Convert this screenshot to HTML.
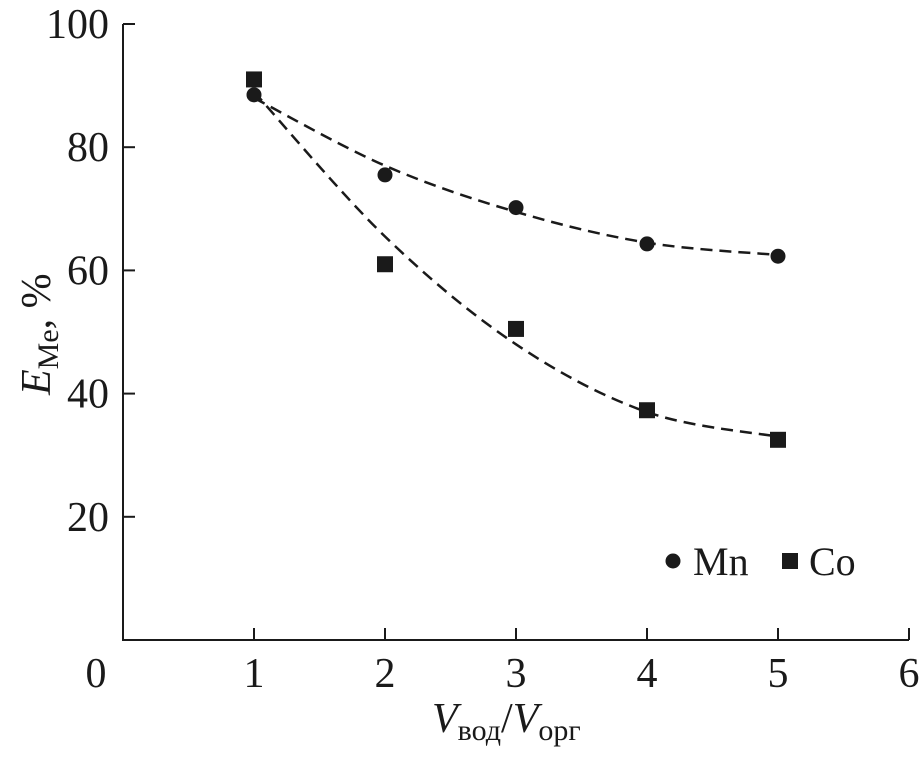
<!DOCTYPE html>
<html><head><meta charset="utf-8"><style>
body{margin:0;background:#fff;}
svg text{font-family:"Liberation Serif",serif;fill:#1a1a1a;}
</style></head><body>
<svg id="c" width="921" height="753" viewBox="0 0 921 753"></svg>
<script>
const xTicks=[0,1,2,3,4,5,6];
const yTicks=[20,40,60,80,100];
const xs=[1,2,3,4,5];
const mnValues=[88.5,75.5,70.2,64.3,62.3];
const coValues=[91,61,50.5,37.3,32.5];
const mnFit=[88,77,69.5,64.5,62.5];
const coFit=[89,65.5,48,37,33];
const svg=document.getElementById('c');
const NS='http://www.w3.org/2000/svg';
const X=v=>123+v*131;
const Y=v=>640-v*6.16;
function el(t,a,p){const e=document.createElementNS(NS,t);for(const k in a)e.setAttribute(k,a[k]);(p||svg).appendChild(e);return e;}
let ax=el('path',{d:`M${X(0)},${Y(100)} L${X(0)},${Y(0)} L${X(6)},${Y(0)}`,fill:'none',stroke:'#1a1a1a','stroke-width':2});


xTicks.forEach(v=>{
 if(v>0){const t=el('line',{x1:X(v),x2:X(v),y1:Y(0),y2:Y(0)-12,stroke:'#1a1a1a','stroke-width':2});
 
 }
 const l=el('text',{x:X(v)-(v==0?27:0),y:687,'font-size':42,'text-anchor':'middle'});l.textContent=v;
 
 
});
yTicks.forEach(v=>{
 const t=el('line',{x1:X(0),x2:X(0)+12,y1:Y(v),y2:Y(v),stroke:'#1a1a1a','stroke-width':2});
 
 
 const l=el('text',{x:109,y:Y(v)+14,'font-size':42,'text-anchor':'end'});l.textContent=v;
 
 
});
function curve(vals){
 const p=xs.map((x,i)=>[X(x),Y(vals[i])]);
 let d=`M${p[0][0]},${p[0][1]}`;
 for(let i=0;i<p.length-1;i++){
  const p0=p[i-1]||p[i],p1=p[i],p2=p[i+1],p3=p[i+2]||p2;
  const c1=[p1[0]+(p2[0]-p0[0])/6,p1[1]+(p2[1]-p0[1])/6];
  const c2=[p2[0]-(p3[0]-p1[0])/6,p2[1]-(p3[1]-p1[1])/6];
  d+=` C${c1[0]},${c1[1]} ${c2[0]},${c2[1]} ${p2[0]},${p2[1]}`;
 }
 return d;
}
const f1=el('path',{d:curve(mnFit),fill:'none',stroke:'#1a1a1a','stroke-width':2.5,'stroke-dasharray':'12,7'});


const f2=el('path',{d:curve(coFit),fill:'none',stroke:'#1a1a1a','stroke-width':2.5,'stroke-dasharray':'12,7'});


xs.forEach((x,i)=>{
 const c=el('circle',{cx:X(x),cy:Y(mnValues[i]),r:7.5,fill:'#1a1a1a'});
 
 
 const s=el('rect',{x:X(x)-8,y:Y(coValues[i])-8,width:16,height:16,fill:'#1a1a1a'});
 
 
});
</script>
<svg style="position:absolute;left:0;top:0" width="921" height="753">
<g>
<circle cx="673" cy="561" r="7.5" fill="#1a1a1a"/>
<text x="693" y="575" font-size="40">Mn</text>
<rect x="782" y="553" width="16" height="16" fill="#1a1a1a"/>
<text x="809" y="575" font-size="40">Co</text>
</g>
<text x="432" y="732" font-size="42"><tspan font-style="italic">V</tspan><tspan font-size="30" dy="8">вод</tspan><tspan dy="-8">/</tspan><tspan font-style="italic">V</tspan><tspan font-size="30" dy="8">орг</tspan></text>
<text transform="translate(50,395) rotate(-90)" font-size="42"><tspan font-style="italic">E</tspan><tspan font-size="30" dy="8">Me</tspan><tspan dy="-8">, %</tspan></text>
</svg>
</body></html>
